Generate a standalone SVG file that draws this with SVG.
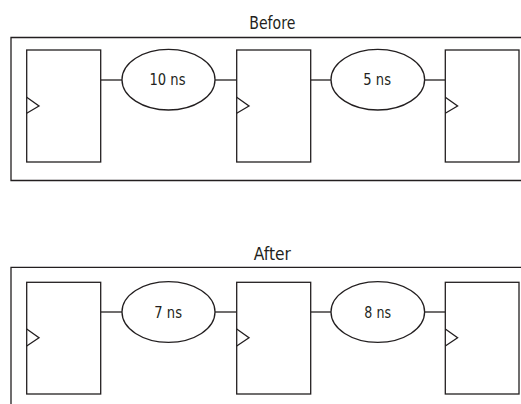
<svg xmlns="http://www.w3.org/2000/svg" width="521" height="404" viewBox="0 0 521 404">
<style>
.f{fill:#fff;stroke:#231f20;stroke-width:1.3}
.l{fill:none;stroke:#231f20;stroke-width:1.3}
.t{font-family:"DejaVu Sans Condensed","Liberation Sans Narrow","Liberation Sans",sans-serif;font-stretch:condensed;fill:#231f20;text-anchor:middle}
.lb{font-size:15px}
.tt{font-size:17px}
</style>
<rect width="521" height="404" fill="#fff"/>
<g id="frame-before">
<path class="l" d="M530,37.5 H11 V180.5 H530"/>
<text class="t tt" x="272.3" y="29" textLength="46" lengthAdjust="spacingAndGlyphs">Before</text>
</g>
<g id="frame-after">
<path class="l" d="M530,267.3 H11 V410"/>
<text class="t tt" x="272.3" y="260" textLength="37" lengthAdjust="spacingAndGlyphs">After</text>
</g>
<g id="connectors">
<line class="l" x1="100.7" y1="80" x2="122" y2="80"/>
<line class="l" x1="215" y1="80" x2="236.7" y2="80"/>
<line class="l" x1="310.7" y1="80" x2="331" y2="80"/>
<line class="l" x1="424.7" y1="80" x2="445.3" y2="80"/>
<line class="l" x1="100.7" y1="312" x2="122" y2="312"/>
<line class="l" x1="215" y1="312" x2="236.7" y2="312"/>
<line class="l" x1="310.7" y1="312" x2="331" y2="312"/>
<line class="l" x1="424.7" y1="312" x2="445.3" y2="312"/>
</g>
<g id="b-reg1"><rect class="f" x="26.7" y="50" width="74" height="112"/><path class="l" d="M26.7,97.3 L39,106 L26.7,113.3"/></g>
<g id="b-reg2"><rect class="f" x="236.7" y="50" width="74" height="112"/><path class="l" d="M236.7,97.3 L249,106 L236.7,113.3"/></g>
<g id="b-reg3"><rect class="f" x="445.3" y="50" width="73.7" height="112"/><path class="l" d="M445.3,97.3 L457.6,106 L445.3,113.3"/></g>
<g id="b-logic1"><ellipse class="f" cx="168.5" cy="79.7" rx="46.5" ry="30.3"/><text class="t lb" x="167.5" y="85.3" textLength="36" lengthAdjust="spacingAndGlyphs">10 ns</text></g>
<g id="b-logic2"><ellipse class="f" cx="377.8" cy="79.7" rx="46.8" ry="30.3"/><text class="t lb" x="377.2" y="85.3" textLength="27.7" lengthAdjust="spacingAndGlyphs">5 ns</text></g>
<g id="a-reg1"><rect class="f" x="26.7" y="282.3" width="74" height="111.7"/><path class="l" d="M26.7,329 L39,337.7 L26.7,346"/></g>
<g id="a-reg2"><rect class="f" x="236.7" y="282.3" width="74" height="111.7"/><path class="l" d="M236.7,329 L249,337.7 L236.7,346"/></g>
<g id="a-reg3"><rect class="f" x="445.3" y="282.3" width="73.7" height="111.7"/><path class="l" d="M445.3,329 L457.6,337.7 L445.3,346"/></g>
<g id="a-logic1"><ellipse class="f" cx="168.5" cy="312" rx="46.5" ry="30.3"/><text class="t lb" x="168.2" y="318" textLength="27.7" lengthAdjust="spacingAndGlyphs">7 ns</text></g>
<g id="a-logic2"><ellipse class="f" cx="377.8" cy="312" rx="46.8" ry="30.3"/><text class="t lb" x="377.7" y="318" textLength="26.7" lengthAdjust="spacingAndGlyphs">8 ns</text></g>
</svg>
